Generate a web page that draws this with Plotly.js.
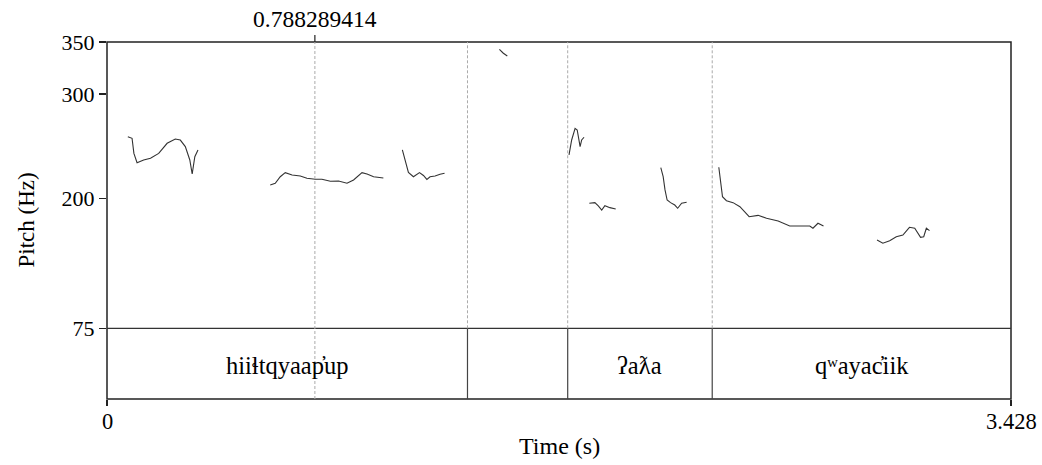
<!DOCTYPE html>
<html>
<head>
<meta charset="utf-8">
<script src="https://cdn.plot.ly/plotly-3.0.1.min.js"></script>
<style>html,body{margin:0;padding:0;background:#fff;}#chart{width:1042px;height:465px;}</style>
</head>
<body>
<div id="chart"></div>
<script>
// Pitch contour (time in s, pitch in Hz); null separates voiced stretches
const pitchTime = [
  0.079,0.095,0.102,0.114,0.139,0.165,0.196,0.228,0.259,0.278,0.297,0.314,0.323,0.333,0.345, null,
  0.619,0.638,0.657,0.676,0.702,0.733,0.758,0.790,0.815,0.847,0.878,0.910,0.935,0.967,0.986,1.011,1.048, null,
  1.120,1.131,1.143,1.162,1.185,1.200,1.213,1.225,1.244,1.263,1.280, null,
  1.488,1.503,1.518, null,
  1.752,1.762,1.775,1.783,1.794,1.800,1.809, null,
  1.829,1.850,1.863,1.876,1.888,1.907,1.929, null,
  2.100,2.109,2.116,2.124,2.137,2.153,2.164,2.179,2.198, null,
  2.320,2.327,2.334,2.349,2.374,2.400,2.419,2.435,2.469,2.501,2.545,2.589,2.627,2.665,2.677,2.696,2.717, null,
  2.920,2.942,2.968,2.993,3.018,3.043,3.063,3.075,3.085,3.097,3.107,3.119
];
const pitchHz = [
  259.1,257.5,243.0,234.0,236.7,238.3,243.0,252.7,256.8,255.8,249.5,236.7,223.2,239.8,246.3, null,
  212.7,214.3,220.6,224.5,222.3,221.3,219.1,218.1,218.1,216.2,216.5,214.3,217.5,224.5,223.2,220.6,219.4, null,
  246.3,235.7,224.7,220.6,224.5,221.8,218.0,220.6,221.3,222.9,223.9, null,
  343.0,339.2,336.6, null,
  241.5,255.9,267.1,265.5,249.5,255.9,258.5, null,
  195.1,195.7,192.5,188.6,192.8,190.9,189.6, null,
  229.3,220.6,207.9,198.2,195.7,193.4,190.3,195.1,196.0, null,
  229.7,217.5,201.4,197.6,195.7,191.8,187.0,182.2,183.5,180.7,178.1,173.3,173.3,173.3,171.1,175.9,173.3, null,
  159.8,156.7,159.1,163.0,164.6,172.0,171.1,166.3,162.4,163.0,171.1,168.8
];

// Text tier
const tierBounds = [0, 1.367, 1.747, 2.295, 3.428];
const tierLabels = ['hiiɬtqyaap̓up', '', 'ʔaƛa', 'qʷayac̓iik'];

// Axes
const timeTicks = [0, 3.428];
const timeTickText = ['0', '3.428'];
const pitchTicks = [75, 200, 300, 350];
const cursorTime = 0.788289414;
const cursorLabel = '0.788289414';

const tMin = 0, tMax = 3.428, fMin = 75, fMax = 350;
const FONT = '"Liberation Serif", "Times New Roman", Times, serif';

const W = 1042, H = 465;
const mL = 107, mR = 31, mT = 42, mB = 66;
const plotH = H - mT - mB;
const tierFrac = (399 - 328.3) / plotH;

const shapes = [];
// outer frame
shapes.push({type:'rect', xref:'paper', yref:'paper', x0:0, x1:1, y0:0, y1:1,
  line:{color:'#222', width:1.5}, layer:'above'});
// tier top line (75 Hz)
shapes.push({type:'line', xref:'paper', yref:'paper', x0:0, x1:1, y0:tierFrac, y1:tierFrac,
  line:{color:'#333', width:1.2}, layer:'above'});
// interval boundaries
for (let i = 1; i < tierBounds.length - 1; i++) {
  const b = tierBounds[i];
  shapes.push({type:'line', xref:'x', yref:'paper', x0:b, x1:b, y0:0, y1:tierFrac,
    line:{color:'#444', width:1.2}});
  shapes.push({type:'line', xref:'x', yref:'paper', x0:b, x1:b, y0:tierFrac, y1:1,
    line:{color:'#aaa', width:1, dash:'3px,2px'}});
}
// cursor
shapes.push({type:'line', xref:'x', yref:'paper', x0:cursorTime, x1:cursorTime, y0:0, y1:1,
  line:{color:'#aaa', width:1, dash:'3px,2px'}});
shapes.push({type:'line', xref:'x', yref:'paper', x0:cursorTime, x1:cursorTime, y0:1, y1:1 + 7/plotH,
  line:{color:'#222', width:1.2}});

const annotations = [];
for (let i = 0; i < tierLabels.length; i++) {
  if (!tierLabels[i]) continue;
  annotations.push({xref:'x', yref:'paper', x:(tierBounds[i] + tierBounds[i+1]) / 2, y:(365 - 399)/-plotH,
    text:tierLabels[i], showarrow:false, xanchor:'center', yanchor:'middle',
    font:{family:FONT, size:24.5, color:'#000'}});
}
// time tick labels
for (let i = 0; i < timeTicks.length; i++) {
  annotations.push({xref:'x', yref:'paper', x:timeTicks[i], y:-(421.5 - 399)/plotH,
    text:timeTickText[i], showarrow:false, xanchor:'center', yanchor:'middle',
    font:{family:FONT, size:22.5, color:'#000'}});
}
annotations.push({xref:'x', yref:'paper', x:cursorTime, y:1 + (42 - 18.5)/plotH,
  text:cursorLabel, showarrow:false, xanchor:'center', yanchor:'middle',
  font:{family:FONT, size:23.5, color:'#000'}});
annotations.push({xref:'paper', yref:'paper', x:(26 - mL)/(W - mL - mR), y:0.5,
  text:'Pitch (Hz)', textangle:-90, showarrow:false, xanchor:'center', yanchor:'middle',
  font:{family:FONT, size:23, color:'#000'}});
annotations.push({xref:'paper', yref:'paper', x:0.5, y:-(446 - 399)/plotH,
  text:'Time (s)', showarrow:false, xanchor:'center', yanchor:'middle',
  font:{family:FONT, size:24, color:'#000'}});

const data = [{
  type:'scatter', mode:'lines', x:pitchTime, y:pitchHz, connectgaps:false,
  line:{color:'#333', width:1.1}, hoverinfo:'skip', showlegend:false
}];

const layout = {
  width:W, height:H,
  margin:{l:mL, r:mR, t:mT, b:mB, pad:0},
  paper_bgcolor:'#fff', plot_bgcolor:'#fff',
  showlegend:false,
  font:{family:FONT, size:22, color:'#000'},
  xaxis:{range:[tMin, tMax], anchor:'free', position:0, showgrid:false, zeroline:false, showline:false,
    tickmode:'array', tickvals:timeTicks, ticks:'outside', ticklen:6, showticklabels:false,
    tickcolor:'#222', tickwidth:1.2},
  yaxis:{range:[fMin, fMax], domain:[tierFrac, 1], showgrid:false, zeroline:false, showline:false,
    tickmode:'array', tickvals:pitchTicks, ticks:'outside', ticklen:7,
    tickcolor:'#222', tickwidth:1.2, tickfont:{family:FONT, size:22, color:'#000'}},
  shapes:shapes, annotations:annotations
};

Plotly.newPlot('chart', data, layout, {displayModeBar:false, staticPlot:true});
</script>
</body>
</html>
